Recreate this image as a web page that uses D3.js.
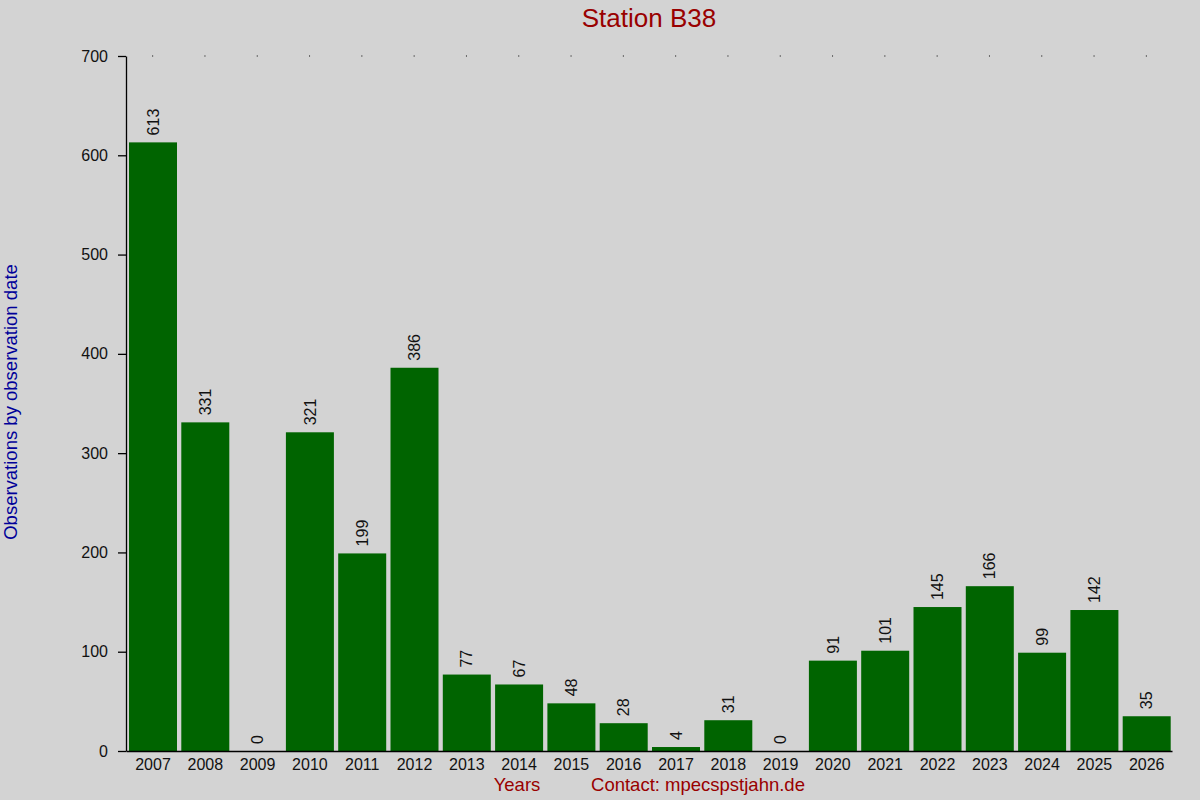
<!DOCTYPE html>
<html>
<head>
<meta charset="utf-8">
<script src="https://cdn.jsdelivr.net/npm/d3@7"></script>
<style>
html,body{margin:0;padding:0;background:#d3d3d3;}
svg{display:block;font-family:"Liberation Sans",Arial,sans-serif;}
</style>
</head>
<body>
<script>
const years = ["2007","2008","2009","2010","2011","2012","2013","2014","2015","2016","2017","2018","2019","2020","2021","2022","2023","2024","2025","2026"];
const counts = [613,331,0,321,199,386,77,67,48,28,4,31,0,91,101,145,166,99,142,35];
const yTicks = [0,100,200,300,400,500,600,700];
const title = "Station B38";
const yTitle = "Observations by observation date";
const xTitle = "Years";
const contact = "Contact: mpecspstjahn.de";

(function () {
const W = 1200, H = 800;
const mLeft = 126, mRight = 1172, mTop = 56, mBottom = 751;

const svg = d3.select("body").append("svg").attr("width", W).attr("height", H);
svg.append("rect").attr("width", W).attr("height", H).attr("fill", "#d3d3d3");

const x = d3.scaleBand().domain(years).range([mLeft, mRight]).paddingInner(0).paddingOuter(0);
const y = d3.scaleLinear().domain([0, 700]).range([mBottom, mTop]);

const barW = 48;
const off = 3;

// bars
svg.append("g").selectAll("rect").data(years).join("rect")
  .attr("x", d => x(d) + off)
  .attr("width", barW)
  .attr("y", (d, i) => y(counts[i]))
  .attr("height", (d, i) => y(0) - y(counts[i]))
  .attr("fill", "#006400");

// value labels
svg.append("g").selectAll("text").data(years).join("text")
  .attr("transform", (d, i) => `translate(${x(d) + off + barW / 2},${y(counts[i]) - 7}) rotate(-90)`)
  .attr("dy", "0.35em")
  .attr("text-anchor", "start")
  .attr("font-size", 16)
  .attr("fill", "#111")
  .text((d, i) => counts[i]);

// top dots
svg.append("g").selectAll("rect").data(years).join("rect")
  .attr("x", d => x(d) + x.bandwidth() / 2)
  .attr("y", y(700) - 0.5)
  .attr("width", 1).attr("height", 1)
  .attr("fill", "#000");

// y axis
const yAxis = d3.axisLeft(y).tickValues(yTicks).tickSize(8).tickPadding(10).tickSizeOuter(0);
const gy = svg.append("g").attr("transform", `translate(${mLeft},0)`).call(yAxis);
gy.select(".domain").attr("stroke", "#000").attr("stroke-width", 1.3);
gy.selectAll(".tick line").attr("stroke", "#000").attr("stroke-width", 1.3);
gy.selectAll(".tick text").attr("font-size", 16).attr("fill", "#111").attr("font-family", "Liberation Sans, Arial, sans-serif");

// x axis
const xAxis = d3.axisBottom(x).tickSize(0).tickPadding(8).tickSizeOuter(0);
const gx = svg.append("g").attr("transform", `translate(0,${mBottom})`).call(xAxis);
gx.select(".domain").attr("stroke", "#000").attr("stroke-width", 1.5);
gx.selectAll(".tick text").attr("font-size", 16).attr("fill", "#111")
  .attr("font-family", "Liberation Sans, Arial, sans-serif")
  .attr("transform", `translate(${off + barW / 2 - x.bandwidth() / 2},0)`);

// titles
svg.append("text").attr("x", 649).attr("y", 27).attr("text-anchor", "middle")
  .attr("font-size", 26).attr("fill", "#990000").text(title);

svg.append("text").attr("transform", "translate(17,402) rotate(-90)").attr("text-anchor", "middle")
  .attr("font-size", 18.5).attr("fill", "#000099").text(yTitle);

svg.append("text").attr("x", 517).attr("y", 791).attr("text-anchor", "middle")
  .attr("font-size", 18.5).attr("fill", "#990000").text(xTitle);

svg.append("text").attr("x", 698).attr("y", 791).attr("text-anchor", "middle")
  .attr("font-size", 18.5).attr("fill", "#990000").text(contact);
})();
</script>
</body>
</html>
